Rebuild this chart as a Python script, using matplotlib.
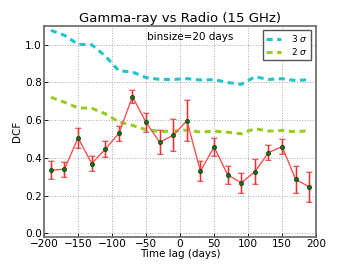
import numpy as np
import matplotlib
matplotlib.use("Agg")
import matplotlib.pyplot as plt

# time lag bin centres (days)
lags = [-190, -170, -150, -130, -110, -90, -70, -50, -30, -10,
        10, 30, 50, 70, 90, 110, 130, 150, 170, 190]
dcf = [0.335, 0.34, 0.507, 0.37, 0.446, 0.53, 0.725, 0.588, 0.483, 0.52,
       0.597, 0.33, 0.458, 0.31, 0.268, 0.326, 0.428, 0.46, 0.286, 0.246]
dcf_err = [0.048, 0.039, 0.053, 0.042, 0.042, 0.039, 0.035, 0.05, 0.063, 0.085,
           0.11, 0.053, 0.049, 0.049, 0.053, 0.067, 0.039, 0.041, 0.072, 0.08]
sig3 = [1.076, 1.05, 1.002, 1.0, 0.94, 0.862, 0.855, 0.826, 0.816, 0.816,
        0.82, 0.813, 0.815, 0.80, 0.79, 0.83, 0.816, 0.82, 0.81, 0.815]
sig2 = [0.721, 0.695, 0.665, 0.663, 0.634, 0.59, 0.572, 0.55, 0.54, 0.542,
        0.547, 0.537, 0.542, 0.536, 0.528, 0.555, 0.542, 0.545, 0.538, 0.545]

fig = plt.figure(figsize=(3.5, 2.64), dpi=100)
ax = fig.add_axes([0.126, 0.102, 0.777, 0.8])

ax.plot(lags, sig3, '--', color='#22c4cc', lw=2.2, dashes=(2, 1.5), label=r'3 $\sigma$')
ax.plot(lags, sig2, '--', color='#99cc22', lw=2.2, dashes=(2, 1.5), label=r'2 $\sigma$')

# light error layer + red one on top
ax.errorbar(lags, dcf, yerr=dcf_err, fmt='none', ecolor='#f4a0a0', alpha=0.6,
            elinewidth=2.0, capsize=2.5, capthick=1.5)
ax.errorbar(lags, dcf, yerr=dcf_err, fmt='-o', color='#ff5050', ecolor='#e83030',
            lw=1, elinewidth=0.8, capsize=2, capthick=0.7,
            mfc='#1a6e1a', mec='#0a3a0a', ms=3, mew=0.5)

ax.text(0.537, 0.946, 'binsize=20 days', transform=ax.transAxes,
        ha='center', va='center', fontsize=7.5)

ax.set_xlim(-200, 200)
ax.set_ylim(-0.02, 1.1)
ax.set_xticks(np.arange(-200, 201, 50))
ax.set_yticks(np.arange(0, 1.01, 0.2))
ax.set_yticklabels(['0.0', '0.2', '0.4', '0.6', '0.8', '1.0'])
ax.tick_params(direction='in', labelsize=7.6, length=3, width=0.6, pad=1.5)
ax.grid(True, ls=':', color='#aaaaaa', lw=0.7)
for s in ax.spines.values():
    s.set_color('#666666')
    s.set_linewidth(1.2)

ax.set_title('Gamma-ray vs Radio (15 GHz)', fontsize=9.5, pad=3)
ax.set_xlabel('Time lag (days)', fontsize=7.5, labelpad=0)
ax.set_ylabel('DCF', fontsize=7.5, labelpad=2)

leg = ax.legend(loc='upper right', fontsize=6.5, handlelength=1.6, handletextpad=1.2,
                borderpad=0.35, labelspacing=0.25, fancybox=False, framealpha=1,
                borderaxespad=0, bbox_to_anchor=(0.982, 0.981))
leg.get_frame().set_edgecolor('#555555')
leg.get_frame().set_linewidth(1.0)

fig.savefig('out.png', dpi=100)
